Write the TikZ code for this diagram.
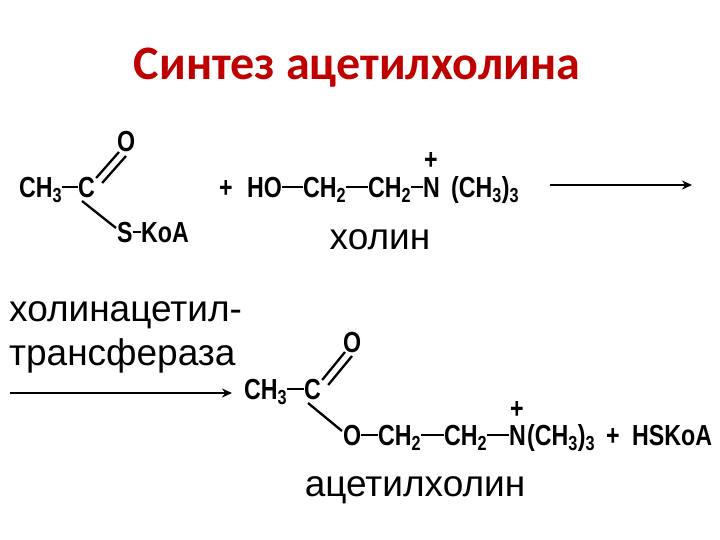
\documentclass[tikz,border=0pt]{standalone}
\usepackage{fontspec}
\usetikzlibrary{arrows.meta}
\setmainfont{Liberation Sans}
\newfontfamily\titlefont{Carlito}
\newcommand{\cz}[1]{\scalebox{0.8}[1]{#1}}
\begin{document}
\begin{tikzpicture}[x=1pt,y=-1pt,
  chem/.style={inner sep=0pt,anchor=base west,font=\fontsize{29}{30}\selectfont\bfseries},
  lbl/.style={inner sep=0pt,font=\fontsize{37}{44}\selectfont},
  bond/.style={line width=2.3pt},
  arr/.style={line width=2pt,-{Stealth[length=10pt,width=9pt]}}]
\useasboundingbox (0,0) rectangle (720,540);
\node[inner sep=0pt,text=red!75!black,font=\fontsize{48}{52}\selectfont\titlefont\bfseries] (title) at (357,68) {Синтез ацетилхолина};
% row 1
\node[chem] (ch3a) at (19,197) {\cz{CH\textsubscript{3}}};
\node[chem] (ca) at (78,197) {\cz{C}};
\node[chem] (oa) at (117,152) {\cz{O}};
\node[chem] (sa) at (117,242) {\cz{S}};
\node[chem] (koa) at (141,242) {\cz{KoA}};
\node[chem] (plus1) at (219,197) {\cz{+}};
\node[chem] (ho) at (247,197) {\cz{HO}};
\node[chem] (ch2a) at (303,197) {\cz{CH\textsubscript{2}}};
\node[chem] (ch2b) at (368,197) {\cz{CH\textsubscript{2}}};
\node[chem] (na) at (423,197) {\cz{N}};
\node[chem] (pa) at (424,170) {\cz{+}};
\node[chem] (mea) at (451,197) {\cz{(CH\textsubscript{3})\textsubscript{3}}};
\draw[bond] ([yshift=10pt]ch3a.base east) -- ([yshift=10pt]ca.base west);
\draw[bond] ([shift={(1pt,19pt)}]ca.base east) -- ([shift={(2pt,0pt)}]oa.base west);
\draw[bond] ([shift={(7pt,14pt)}]ca.base east) -- ([shift={(9pt,-4pt)}]oa.base west);
\draw[bond] ([shift={(4pt,-4pt)}]ca.base west) -- ([shift={(-1pt,14pt)}]sa.base west);
\draw[bond] ([yshift=10pt]sa.base east) -- ([yshift=10pt]koa.base west);
\draw[bond] ([yshift=10pt]ho.base east) -- ([yshift=10pt]ch2a.base west);
\draw[bond] ([yshift=10pt]ch2a.base east) -- ([yshift=10pt]ch2b.base west);
\draw[bond] ([yshift=10pt]ch2b.base east) -- ([yshift=10pt]na.base west);
\coordinate (a1s) at (550,185);
\coordinate (a1e) at (692,185);
\draw[arr] (a1s) -- (a1e);
\node[lbl] (holin) at (380,240) {холин};
\node[lbl,anchor=west,align=left] (enz) at (9,337) {холинацетил-\\трансфераза};
\coordinate (a2s) at (10,393);
\coordinate (a2e) at (232,393);
\draw[arr] (a2s) -- (a2e);
% row 2
\node[chem] (ch3b) at (244,399) {\cz{CH\textsubscript{3}}};
\node[chem] (cb) at (304,399) {\cz{C}};
\node[chem] (ob) at (343,352) {\cz{O}};
\node[chem] (o2) at (343,445) {\cz{O}};
\node[chem] (ch2c) at (378,445) {\cz{CH\textsubscript{2}}};
\node[chem] (ch2d) at (444,445) {\cz{CH\textsubscript{2}}};
\node[chem] (nb) at (509,445) {\cz{N}};
\node[chem] (pb) at (510,418) {\cz{+}};
\node[chem] (meb) at (527,445) {\cz{(CH\textsubscript{3})\textsubscript{3}}};
\node[chem] (plus2) at (606,445) {\cz{+}};
\node[chem] (hs) at (632,445) {\cz{HSKoA}};
\draw[bond] ([yshift=10pt]ch3b.base east) -- ([yshift=10pt]cb.base west);
\draw[bond] ([shift={(1pt,19pt)}]cb.base east) -- ([shift={(2pt,0pt)}]ob.base west);
\draw[bond] ([shift={(7pt,14pt)}]cb.base east) -- ([shift={(9pt,-4pt)}]ob.base west);
\draw[bond] ([shift={(4pt,-4pt)}]cb.base west) -- ([shift={(-1pt,14pt)}]o2.base west);
\draw[bond] ([yshift=10pt]o2.base east) -- ([yshift=10pt]ch2c.base west);
\draw[bond] ([yshift=10pt]ch2c.base east) -- ([yshift=10pt]ch2d.base west);
\draw[bond] ([yshift=10pt]ch2d.base east) -- ([yshift=10pt]nb.base west);
\node[lbl] (acetyl) at (415,490) {ацетилхолин};
\end{tikzpicture}
\end{document}
